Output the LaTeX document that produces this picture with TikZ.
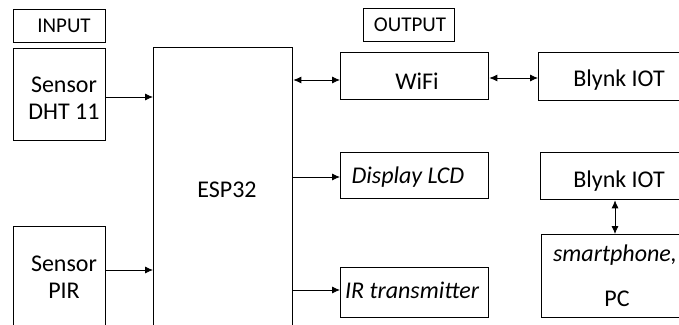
\documentclass[tikz,border=0pt]{standalone}
\usepackage{fontspec}
\setmainfont{Carlito}
\usetikzlibrary{arrows.meta}
\begin{document}
\begin{tikzpicture}[x=1pt,y=-1pt,
  box/.style={draw=black,line width=1.3pt,inner sep=0pt,anchor=north west},
  lbl/.style={inner sep=0pt,font=\fontsize{24}{27}\selectfont,align=center},
  hdr/.style={inner sep=0pt,font=\fontsize{21}{24}\selectfont},
  arr/.style={line width=0.8pt,-{Latex[length=8pt,width=7pt]}},
  darr/.style={line width=0.8pt,{Latex[length=8pt,width=7pt]}-{Latex[length=8pt,width=7pt]}}]
\useasboundingbox (0,0) rectangle (679,324);
\clip (0,0) rectangle (679,324);
% header boxes
\node[box,minimum width=92pt,minimum height=33pt] (inbox) at (13,9) {};
\node[hdr] (inlbl) at (64,26) {INPUT};
\node[box,minimum width=91pt,minimum height=33pt] (outbox) at (363,8) {};
\node[hdr] (outlbl) at (410,25) {OUTPUT};
% inputs
\node[box,minimum width=92pt,minimum height=92pt] (dht) at (13,48) {};
\node[lbl] (dhtl) at (64,98) {Sensor\\DHT 11};
\node[box,minimum width=92pt,minimum height=100pt] (pir) at (13,226) {};
\node[lbl] (pirl) at (64,277) {Sensor\\PIR};
% ESP32
\node[box,minimum width=139pt,minimum height=300pt] (esp) at (153,47) {};
\node[lbl] (espl) at (227,190) {ESP32};
% outputs
\node[box,minimum width=148pt,minimum height=47pt] (wifi) at (340,52) {};
\node[lbl] (wifil) at (417,81) {WiFi};
\node[box,minimum width=148pt,minimum height=46pt] (lcd) at (340,152) {};
\node[lbl] (lcdl) at (408,177) {\itshape Display LCD};
\node[box,minimum width=148pt,minimum height=50pt] (ir) at (340,267) {};
\node[lbl] (irl) at (412,290) {\itshape IR transmitter};
% right column
\node[box,minimum width=160pt,minimum height=48pt] (blynk1) at (538,52) {};
\node[lbl] (blynk1l) at (619,80) {Blynk IOT};
\node[box,minimum width=160pt,minimum height=47pt] (blynk2) at (540,152) {};
\node[lbl] (blynk2l) at (619,181) {Blynk IOT};
\node[box,minimum width=160pt,minimum height=83pt] (phone) at (541,234) {};
\node[lbl] (phonel) at (615,255) {\itshape smartphone,};
\node[lbl] (pcl) at (617,299) {PC};
% connectors
\coordinate (espR1) at (esp.east |- 0,80);
\coordinate (wifiL) at (wifi.west |- 0,80);
\draw[darr] (espR1) -- (wifiL);
\draw[darr] (wifi.east |- 0,78) -- (blynk1.west |- 0,78);
\draw[arr] (dht.east |- 0,97) -- (esp.west |- 0,97);
\draw[arr] (pir.east |- 0,270) -- (esp.west |- 0,270);
\draw[arr] (esp.east |- 0,177) -- (lcd.west |- 0,177);
\draw[arr] (esp.east |- 0,290) -- (ir.west |- 0,290);
\draw[darr] (blynk2.south -| 615,0) -- (phone.north -| 615,0);
\end{tikzpicture}
\end{document}
